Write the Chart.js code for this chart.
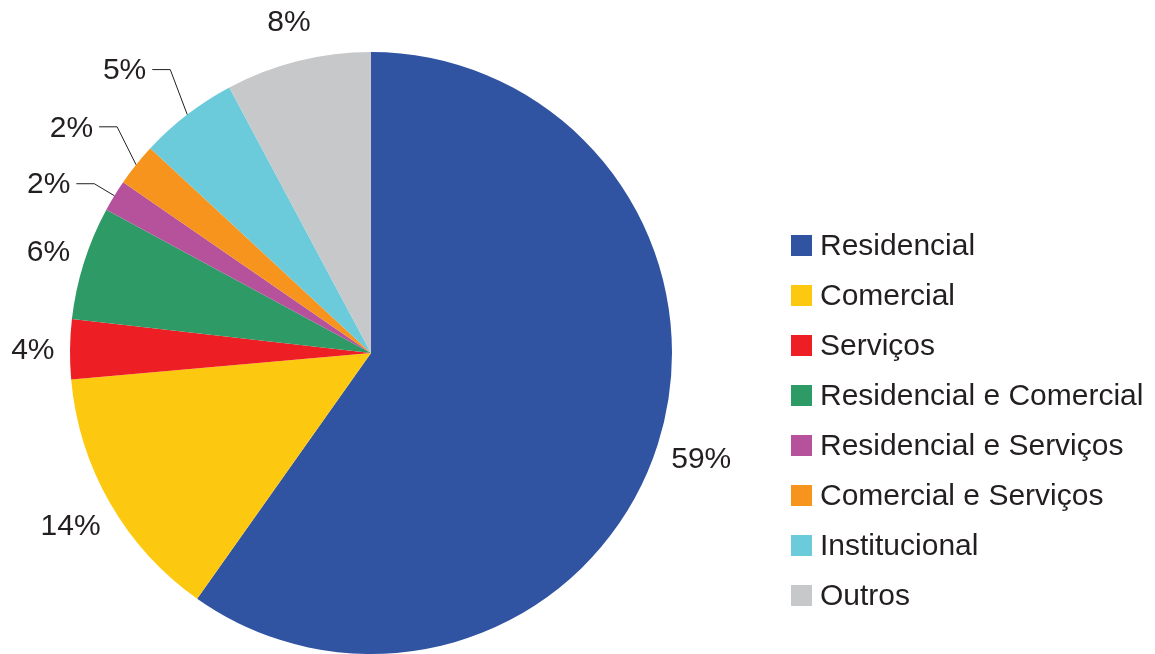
<!DOCTYPE html>
<html>
<head>
<meta charset="utf-8">
<script src="https://cdn.jsdelivr.net/npm/chart.js@4/dist/chart.umd.min.js"></script>
<style>
  html, body { margin: 0; padding: 0; background: #ffffff; }
  #wrap { position: relative; width: 1155px; height: 654px; overflow: hidden; }
  #chart { position: absolute; left: 0; top: 0; }
  #legend { position: absolute; left: 791px; top: 230px; font-family: "Liberation Sans", Arial, sans-serif; font-size: 30px; color: #231F20; }
  .item { position: relative; height: 50px; line-height: 30px; white-space: nowrap; }
  .sw { position: absolute; left: 0; top: 5px; width: 21px; height: 21px; }
  .tx { position: absolute; left: 29px; top: 0; }
</style>
</head>
<body>
<div id="wrap">
  <canvas id="chart" width="1155" height="654"></canvas>
  <div id="legend"></div>
</div>
<script>
// ---- data ----
const categories = ["Residencial", "Comercial", "Serviços", "Residencial e Comercial", "Residencial e Serviços", "Comercial e Serviços", "Institucional", "Outros"];
const shares = [59.8, 13.8, 3.2, 6.1, 1.7, 2.3, 5.3, 7.8];
const shareLabels = ["59%", "14%", "4%", "6%", "2%", "2%", "5%", "8%"];
const sliceColors = ["#3053A2", "#FCC910", "#ED1F24", "#2E9A66", "#B6529C", "#F7941E", "#6BCBDB", "#C7C8CA"];

// ---- legend (HTML) ----
const legendEl = document.getElementById('legend');
categories.forEach((c, i) => {
  const d = document.createElement('div');
  d.className = 'item';
  d.innerHTML = '<span class="sw" style="background:' + sliceColors[i] + '"></span><span class="tx"></span>';
  d.querySelector('.tx').textContent = c;
  legendEl.appendChild(d);
});

// ---- outside labels plugin ----
const outsideLabels = {
  id: 'outsideLabels',
  afterDatasetsDraw(chart, args, opts) {
    const ctx = chart.ctx;
    const meta = chart.getDatasetMeta(0);
    ctx.save();
    ctx.font = opts.font;
    ctx.fillStyle = opts.color;
    ctx.strokeStyle = opts.lineColor;
    ctx.lineWidth = 1;
    ctx.textBaseline = 'alphabetic';
    const half = opts.capHeight / 2;
    meta.data.forEach((arc, i) => {
      const p = arc.getProps(['x', 'y', 'startAngle', 'endAngle', 'outerRadius'], true);
      const mid = (p.startAngle + p.endAngle) / 2;
      const ux = Math.cos(mid), uy = Math.sin(mid);
      const txt = shareLabels[i];
      const w = ctx.measureText(txt).width;
      const h = opts.textHeight;
      const leader = opts.leaders[i];
      if (leader) {
        const ex = p.x + p.outerRadius * ux;
        const ey = p.y + p.outerRadius * uy;
        const bx = ex + leader[0];
        const by = ey + leader[1];
        const hx = bx - opts.leaderLen;
        ctx.beginPath();
        ctx.moveTo(ex, ey);
        ctx.lineTo(bx, by);
        ctx.lineTo(hx, by);
        ctx.stroke();
        ctx.textAlign = 'right';
        ctx.fillText(txt, hx - opts.leaderGap, by - 1 + half);
      } else {
        const r = p.outerRadius + opts.gap;
        const cx = p.x + r * ux + ux * w / 2;
        const cy = p.y + r * uy + uy * h / 2;
        ctx.textAlign = 'center';
        ctx.fillText(txt, cx, cy + half);
      }
    });
    ctx.restore();
  }
};

new Chart(document.getElementById('chart'), {
  type: 'pie',
  data: {
    labels: categories,
    datasets: [{
      data: shares,
      backgroundColor: sliceColors,
      borderWidth: 0,
      hoverOffset: 0
    }]
  },
  options: {
    responsive: false,
    animation: false,
    events: [],
    rotation: 0,
    layout: { padding: { left: 70, right: 483, top: 52, bottom: 0 } },
    plugins: {
      legend: { display: false },
      tooltip: { enabled: false },
      outsideLabels: {
        font: '30px "Liberation Sans", Arial, sans-serif',
        color: '#231F20',
        lineColor: '#231F20',
        capHeight: 21.5,
        textHeight: 54,
        gap: 15.5,
        leaderLen: 18,
        leaderGap: 6,
        leaders: [null, null, null, null, [-20, -12], [-19, -38], [-17, -45], null]
      }
    }
  },
  plugins: [outsideLabels]
});
</script>
</body>
</html>
